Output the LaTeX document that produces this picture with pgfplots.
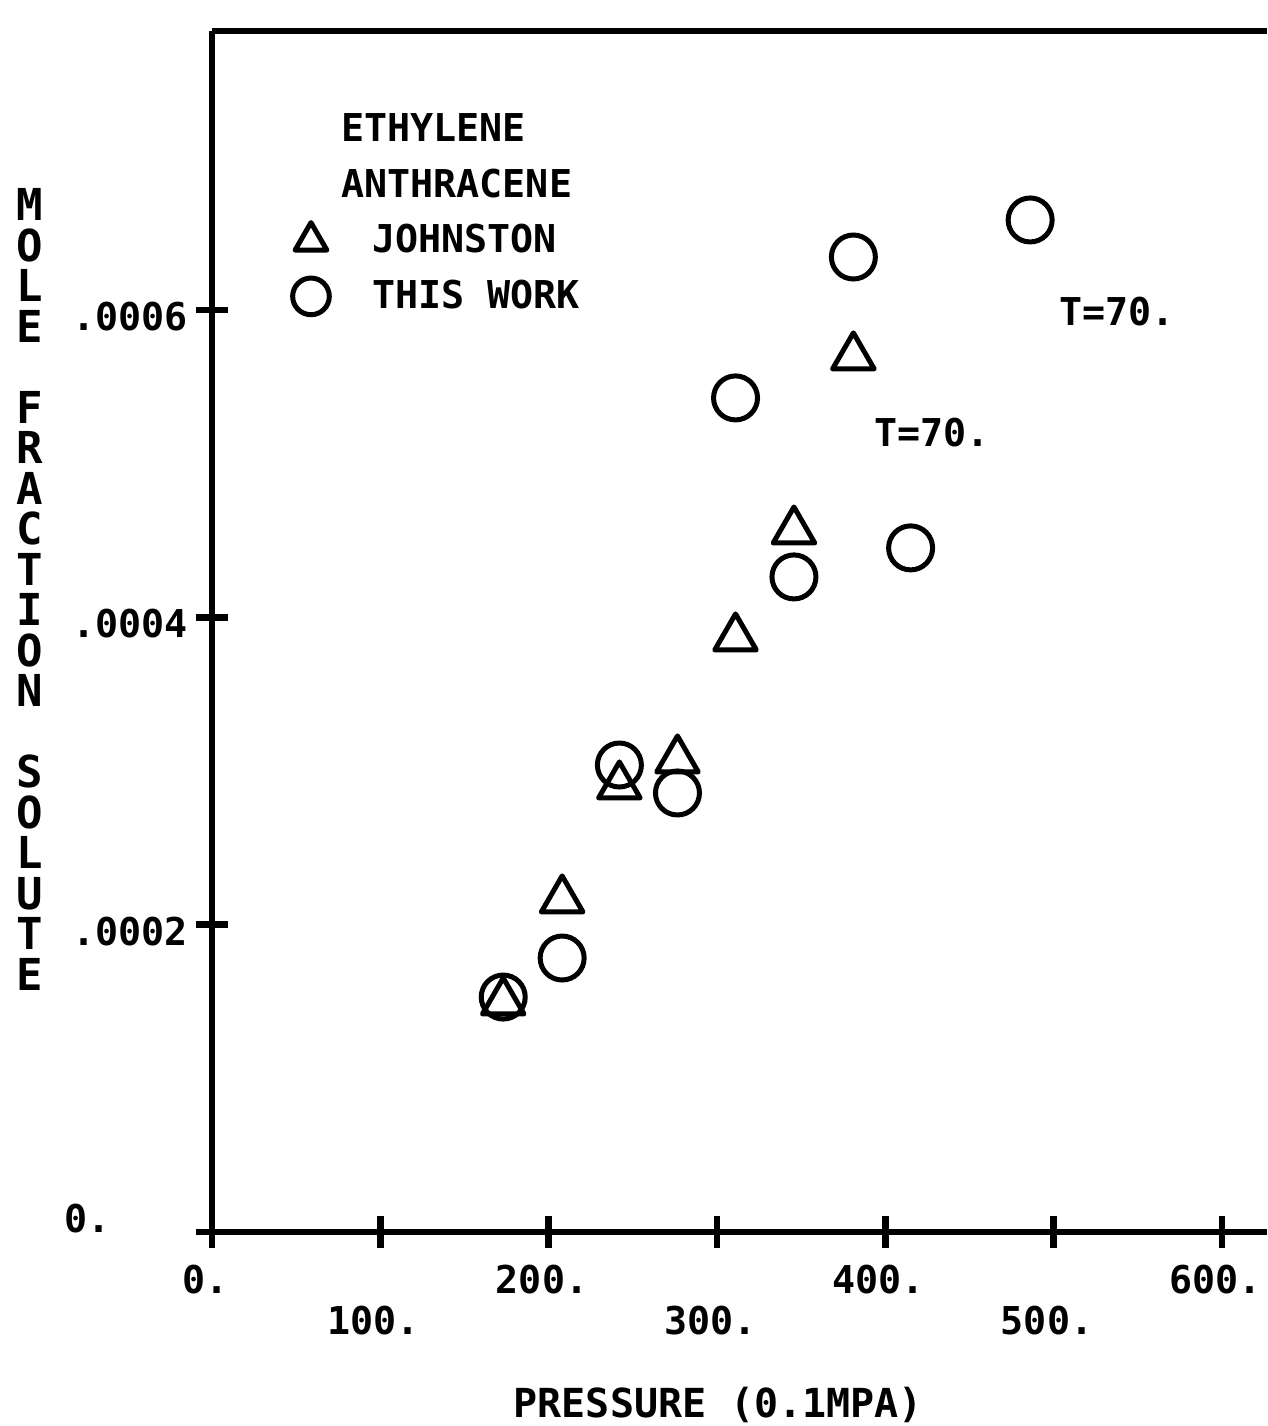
\documentclass[border=0pt]{standalone}
\usepackage{fontspec}
\setmainfont{DejaVu Sans Mono}
\usepackage{pgfplots}
\usepackage{pgfplotstable}
\pgfplotsset{compat=1.18}

% pressure (0.1 MPa), mole fraction of anthracene in ethylene, T = 70
\pgfplotstableread{
p     y
173   0.0001497
208   0.0002161
242   0.0002903
276.5 0.0003072
311   0.0003866
345.7 0.0004562
381   0.0005695
}\johnston

\pgfplotstableread{
p     y
173   0.0001529
208   0.0001783
242   0.0003039
276.5 0.0002857
311   0.0005428
345.7 0.0004263
381   0.0006345
415   0.0004452
486   0.0006586
}\thiswork

\newcommand{\pf}{\fontsize{11.5}{13}\selectfont\bfseries}
% letters of the y label, one under the other
\newcommand{\stacked}{\vbox{\baselineskip=12.15pt\lineskiplimit=-\maxdimen
  \halign{\hfil##\hfil\cr M\cr O\cr L\cr E\cr\cr F\cr R\cr A\cr C\cr T\cr I\cr O\cr N\cr\cr
  S\cr O\cr L\cr U\cr T\cr E\cr}}}

\begin{document}
\begin{tikzpicture}
\begin{axis}[
  at={(0,0)}, anchor=south west,
  scale only axis, width=316.5pt, height=360.3pt,
  xmin=0, xmax=626.7, ymin=0, ymax=0.0007816,
  axis x line*=bottom, axis y line*=left,
  axis line style={-, line width=2pt},
  x axis line style={-}, y axis line style={-},
  scaled y ticks=false, scaled x ticks=false,
  xtick={0,200,400,600}, xticklabels={0.,200.,400.,600.},
  extra x ticks={100,300,500}, extra x tick labels={100.,300.,500.},
  extra x tick style={xticklabel style={yshift=-12.3pt}},
  ytick={0,0.0002,0.0004,0.0006},
  yticklabels={\hspace*{-2.4pt}\raisebox{6pt}[8.4pt][0pt]{0.},.0002,.0004,.0006},
  tick align=center, major tick length=9.6pt,
  every tick/.style={black, line width=2pt},
  tick label style={font=\pf},
  xticklabel style={anchor=center, yshift=-9.6pt, xshift=-2pt},
  yticklabel style={anchor=west, inner sep=0pt, xshift=-37.2pt, yshift=-2pt},
  xlabel={PRESSURE (0.1MPA)},
  xlabel style={font=\fontsize{12}{13}\selectfont\bfseries, at={(rel axis cs:0.48,0)}, anchor=center, yshift=-52pt},
  ylabel={\fontsize{13.2}{12.15}\selectfont\bfseries\stacked},
  ylabel style={at={(rel axis cs:0,0.535)}, anchor=center, rotate=-90, xshift=-54.6pt},
  legend style={at={(axis cs:41.5,0.0007303)}, anchor=north west, draw=none, fill=none,
    inner sep=0pt, font=\pf, row sep=4.6pt, nodes={inner sep=1pt}},
  legend cell align=left,
  legend image post style={mark size=5.5pt},
  clip=false,
]
\addlegendimage{empty legend}
\addlegendentry{\hspace*{2.6pt}ETHYLENE}
\addlegendimage{empty legend}
\addlegendentry{\hspace*{2.6pt}ANTHRACENE}
\addplot[only marks, mark=triangle, mark size=7.2pt,
  mark options={black, line width=1.5pt, line join=round}] table[x=p, y=y] {\johnston};
\addlegendentry{\hspace*{11.9pt}JOHNSTON}
\addplot[only marks, mark=o, mark size=6.6pt,
  mark options={black, line width=1.5pt}] table[x=p, y=y] {\thiswork};
\addlegendentry{\hspace*{11.9pt}THIS WORK}
\draw[line width=2pt] (rel axis cs:0,1) -- (rel axis cs:1,1);
\node[font=\pf] at (axis cs:427.7,0.00052) {T=70.};
\node[font=\pf] at (axis cs:537.6,0.000599) {T=70.};
\end{axis}
\pgfresetboundingbox
\path[use as bounding box] (-63.6pt,-58.2pt) rectangle (316.5pt,369.6pt);
\end{tikzpicture}
\end{document}
